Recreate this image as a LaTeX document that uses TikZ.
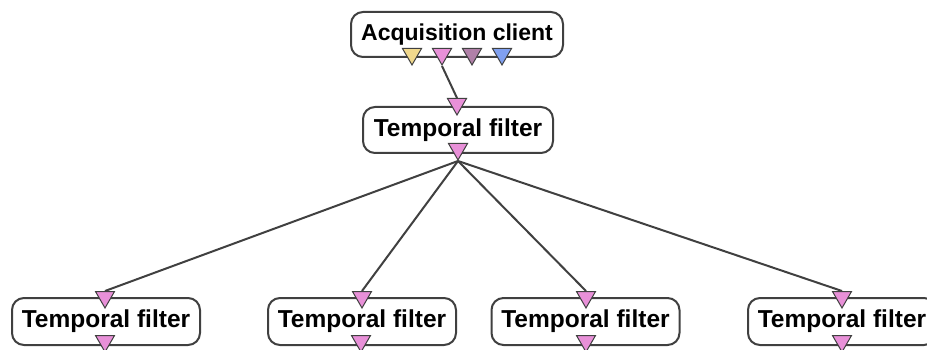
\documentclass[tikz,border=0pt]{standalone}
\usepackage{fontspec}
\setmainfont{Liberation Sans}
\usetikzlibrary{shapes.geometric,backgrounds}
\definecolor{edgegray}{RGB}{64,64,64}
\definecolor{pyellow}{RGB}{240,216,140}
\definecolor{ppink}{RGB}{232,144,216}
\definecolor{ppurple}{RGB}{176,128,168}
\definecolor{pblue}{RGB}{128,160,240}
\tikzset{
  block/.style={draw=edgegray, line width=2pt, fill=white, rounded corners=12pt,
    minimum width=190pt, minimum height=46pt, inner sep=0pt,
    font=\fontsize{24.5}{27}\selectfont\bfseries},
  port/.style={regular polygon, regular polygon sides=3, shape border rotate=180,
    minimum size=22pt, inner sep=0pt, draw=edgegray, line width=1pt, fill=#1},
  wire/.style={draw=edgegray, line width=2pt}
}
\begin{document}
\begin{tikzpicture}[x=1pt,y=-1pt]
\useasboundingbox (0,0) rectangle (927,350);
% blocks
\node[block, minimum width=212pt, minimum height=45pt, font=\fontsize{23}{26}\selectfont\bfseries] (acq) at (457,34.5) {Acquisition client};
\node[block] (mid) at (458,130) {Temporal filter};
\node[block, minimum width=188pt, minimum height=47pt] (b1) at (106,321.5) {Temporal filter};
\node[block, minimum width=188pt, minimum height=47pt] (b2) at (362,321.5) {Temporal filter};
\node[block, minimum width=188pt, minimum height=47pt] (b3) at (585.5,321.5) {Temporal filter};
\node[block, minimum width=188pt, minimum height=47pt] (b4) at (842,321.5) {Temporal filter};
% ports
\node[port=pyellow] (acq1) at (412,54) {};
\node[port=ppink] (acq2) at (442,54) {};
\node[port=ppurple] (acq3) at (472,54) {};
\node[port=pblue] (acq4) at (502,54) {};
\node[port=ppink] (midin) at (457,104) {};
\node[port=ppink] (midout) at (458,149) {};
\node[port=ppink] (b1in) at (105,297) {};
\node[port=ppink] (b2in) at (362,297) {};
\node[port=ppink] (b3in) at (586,297) {};
\node[port=ppink] (b4in) at (842,297) {};
\node[port=ppink] (b1out) at (105,341) {};
\node[port=ppink] (b2out) at (361,341) {};
\node[port=ppink] (b3out) at (586,341) {};
\node[port=ppink] (b4out) at (842,341) {};
% connectors
\begin{scope}[on background layer]
\draw[wire] (acq2.south) -- (midin.north);
\draw[wire] (midout.south) -- (b1in.north);
\draw[wire] (midout.south) -- (b2in.north);
\draw[wire] (midout.south) -- (b3in.north);
\draw[wire] (midout.south) -- (b4in.north);
\end{scope}
\end{tikzpicture}
\end{document}
